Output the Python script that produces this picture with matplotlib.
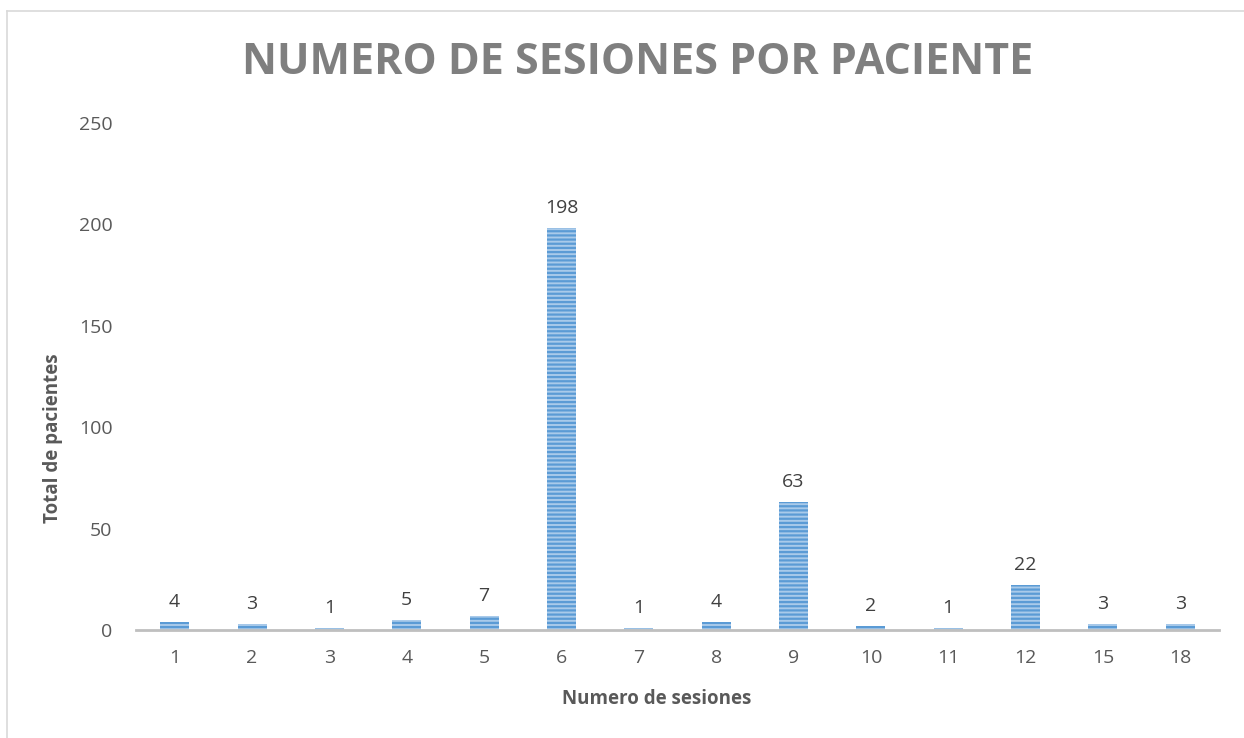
import matplotlib

matplotlib.use("Agg")
import matplotlib.pyplot as plt
from matplotlib.lines import Line2D

# data
sesiones = ["1", "2", "3", "4", "5", "6", "7", "8", "9", "10", "11", "12", "15", "18"]
pacientes = [4, 3, 1, 5, 7, 198, 1, 4, 63, 2, 1, 22, 3, 3]
y_ticks = [0, 50, 100, 150, 200, 250]

FONT = ["Open Sans", "DejaVu Sans"]
TITLE_COLOR = "#7F7F7F"
TEXT_COLOR = "#595959"
LABEL_COLOR = "#404040"
BAR_FACE = "#A9CAEA"
BAR_LINES = "#5B9BD5"

plt.rcParams["font.family"] = FONT
plt.rcParams["hatch.linewidth"] = 1.6

fig = plt.figure(figsize=(12.44, 7.38), dpi=100)
ax = fig.add_axes([136 / 1244, 108 / 738, 1083 / 1244, 507 / 738])

x = range(len(sesiones))
bars = ax.bar(x, pacientes, width=0.375, color=BAR_FACE, edgecolor=BAR_LINES,
              linewidth=0, hatch="----", zorder=2)
ax.bar_label(bars, labels=[str(v) for v in pacientes], padding=8,
             fontsize=14, color=LABEL_COLOR)

ax.set_xlim(-0.5, len(sesiones) - 0.5)
ax.set_ylim(0, 250)
ax.set_xticks(list(x))
ax.set_xticklabels(sesiones)
ax.set_yticks(y_ticks)
ax.tick_params(axis="both", length=0, labelsize=14, colors=TEXT_COLOR)
ax.tick_params(axis="x", pad=14)
ax.tick_params(axis="y", pad=17)

for side in ("top", "right", "left"):
    ax.spines[side].set_visible(False)
ax.spines["bottom"].set_color("#BFBFBF")
ax.spines["bottom"].set_linewidth(2)
ax.spines["bottom"].set_zorder(3)

ax.set_xlabel("Numero de sesiones", fontsize=13.5, fontweight="bold",
              color=TEXT_COLOR)
ax.set_ylabel("Total de pacientes", fontsize=13.5, fontweight="bold",
              color=TEXT_COLOR)
ax.xaxis.set_label_coords(0.481, -0.116)
ax.yaxis.set_label_coords(-0.067, 0.379)

fig.text(638 / 1244, 1 - 62 / 738, "NUMERO DE SESIONES POR PACIENTE",
         ha="center", va="center", fontsize=31, fontweight="bold",
         color=TITLE_COLOR)

# chart-area frame (cropped on the right and bottom)
fig.add_artist(Line2D([6.5 / 1244, 1], [1 - 11 / 738, 1 - 11 / 738],
                      transform=fig.transFigure, color="#D9D9D9", lw=1.2))
fig.add_artist(Line2D([6.5 / 1244, 6.5 / 1244], [0, 1 - 11 / 738],
                      transform=fig.transFigure, color="#D9D9D9", lw=1.2))

fig.savefig("out.png", dpi=100)
